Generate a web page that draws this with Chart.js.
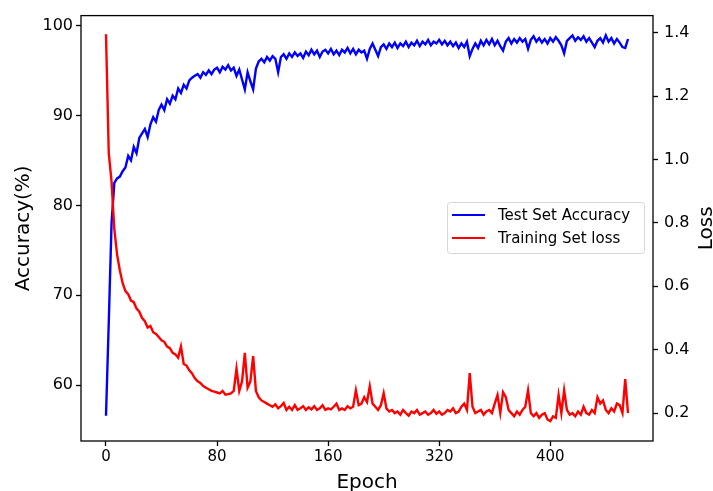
<!DOCTYPE html>
<html><head><meta charset="utf-8">
<script src="https://cdn.jsdelivr.net/npm/chart.js@4.4.1/dist/chart.umd.min.js"></script>
<style>html,body{margin:0;padding:0;background:#fff}#wrap{width:713px;height:491px;position:relative}</style>
</head><body><div id="wrap"><canvas id="c" width="713" height="491"></canvas></div>
<script>
const epochStep = 2;
const testAccuracy = [
  56.6, 67.0, 78.0, 82.5, 83.0, 83.2, 83.8, 84.2, 85.5, 85.0,
  86.5, 85.8, 87.5, 88.0, 88.5, 87.6, 89.0, 89.8, 89.3, 90.6,
  91.2, 90.6, 91.8, 91.3, 92.2, 91.8, 93.0, 92.5, 93.4, 93.0,
  93.9, 94.2, 94.4, 94.6, 94.2, 94.8, 94.5, 95.0, 94.6, 95.1,
  95.3, 94.8, 95.4, 95.1, 95.6, 95.0, 95.3, 94.4, 95.1, 94.0,
  92.9, 94.8, 93.8, 92.9, 95.2, 96.0, 96.3, 95.9, 96.5, 96.1,
  96.6, 96.3, 94.8, 96.5, 96.8, 96.3, 96.9, 96.5, 97.0, 96.6,
  96.9, 96.4, 97.1, 96.7, 97.3, 96.8, 97.2, 96.5, 97.1, 97.3,
  96.9, 97.4, 96.8, 97.2, 96.7, 97.3, 97.0, 97.5, 96.9, 97.4,
  96.8, 97.3, 97.0, 97.2, 96.3, 97.4, 98.0, 97.3, 96.6, 97.6,
  97.9, 97.4, 98.0, 97.6, 98.1, 97.5, 98.0, 97.7, 98.2, 97.6,
  98.1, 97.8, 98.3, 97.7, 98.2, 97.9, 98.4, 97.8, 98.2, 98.0,
  98.4, 97.9, 98.3, 97.8, 98.2, 97.7, 98.1, 97.5, 98.0, 97.6,
  98.2, 96.6, 97.4, 98.0, 97.5, 98.3, 97.8, 98.4, 97.9, 98.5,
  97.8, 98.3, 97.7, 97.2, 98.2, 98.6, 98.0, 98.5, 98.1, 98.6,
  98.2, 98.5, 97.4, 98.4, 98.8, 98.2, 98.6, 98.1, 98.5, 98.0,
  98.6, 98.2, 98.7, 98.3, 97.8, 96.9, 98.3, 98.6, 98.9, 98.3,
  98.7, 98.4, 98.8, 98.2, 98.6, 98.1, 97.6, 98.3, 98.6, 98.1,
  98.9, 98.2, 98.6, 98.0, 98.5, 98.1, 97.6, 97.5, 98.5
];
const trainingLoss = [
  1.395, 1.02, 0.93, 0.78, 0.70, 0.65, 0.61, 0.585, 0.575, 0.555,
  0.55, 0.53, 0.52, 0.50, 0.49, 0.47, 0.475, 0.455, 0.45, 0.44,
  0.43, 0.425, 0.41, 0.405, 0.39, 0.385, 0.375, 0.41, 0.355, 0.35,
  0.335, 0.325, 0.31, 0.30, 0.295, 0.285, 0.28, 0.275, 0.27, 0.268,
  0.265, 0.262, 0.27, 0.258, 0.26, 0.262, 0.27, 0.34, 0.27, 0.30,
  0.39, 0.28, 0.30, 0.38, 0.27, 0.25, 0.24, 0.235, 0.23, 0.225,
  0.22, 0.228, 0.215, 0.222, 0.232, 0.21, 0.22, 0.21, 0.225, 0.21,
  0.215, 0.222, 0.21, 0.218, 0.212, 0.222, 0.21, 0.215, 0.225, 0.21,
  0.215, 0.212, 0.22, 0.23, 0.21, 0.215, 0.21, 0.222, 0.215, 0.22,
  0.272, 0.225, 0.23, 0.25, 0.235, 0.285, 0.23, 0.22, 0.21, 0.225,
  0.263, 0.215, 0.205, 0.21, 0.20, 0.205, 0.195, 0.21, 0.20, 0.192,
  0.205, 0.20, 0.21, 0.195, 0.20, 0.205, 0.195, 0.20, 0.21, 0.198,
  0.205, 0.195, 0.20, 0.21, 0.205, 0.215, 0.20, 0.205, 0.22, 0.23,
  0.21, 0.326, 0.22, 0.20, 0.205, 0.21, 0.195, 0.205, 0.21, 0.20,
  0.23, 0.257, 0.20, 0.266, 0.25, 0.21, 0.20, 0.19, 0.205, 0.195,
  0.21, 0.22, 0.272, 0.20, 0.19, 0.20, 0.185, 0.195, 0.20, 0.18,
  0.175, 0.19, 0.185, 0.257, 0.20, 0.272, 0.21, 0.195, 0.20, 0.19,
  0.205, 0.195, 0.22, 0.20, 0.195, 0.21, 0.20, 0.25, 0.23, 0.24,
  0.21, 0.20, 0.215, 0.205, 0.23, 0.225, 0.20, 0.307, 0.20
];
const xTickValues = [0, 80, 160, 240, 320];
const xTickLabels = ['0', '80', '160', '320', '400'];
const accuracyTicks = [60, 70, 80, 90, 100];
const lossTicks = [0.2, 0.4, 0.6, 0.8, 1.0, 1.2, 1.4];
const seriesLabels = ['Test Set Accuracy', 'Training Set loss'];
const seriesColors = ['#0000ff', '#ff0000'];
const axisTitles = {x: 'Epoch', y: 'Accuracy(%)', y1: 'Loss'};

const FONT = "'DejaVu Sans', sans-serif";
const toPoints = arr => arr.map((v, i) => ({x: i * epochStep, y: v}));

const extrasPlugin = {
  id: 'extras',
  afterDraw(chart) {
    const {ctx, chartArea: a} = chart;
    ctx.save();
    ctx.strokeStyle = '#000';
    ctx.lineWidth = 1.3;
    ctx.strokeRect(a.left, a.top, a.right - a.left, a.bottom - a.top);
    const lx = 447, ly = 202, lw = 197, lh = 51;
    ctx.beginPath();
    ctx.roundRect(lx + 0.5, ly + 0.5, lw, lh, 3);
    ctx.fillStyle = 'rgba(255,255,255,0.85)';
    ctx.fill();
    ctx.strokeStyle = '#d6d6d6';
    ctx.lineWidth = 1;
    ctx.stroke();
    ctx.font = '15px ' + FONT;
    ctx.textBaseline = 'middle';
    ctx.textAlign = 'left';
    const rows = [215, 238];
    chart.data.datasets.forEach((ds, i) => {
      ctx.strokeStyle = ds.borderColor;
      ctx.lineWidth = 2.2;
      ctx.beginPath();
      ctx.moveTo(452, rows[i]);
      ctx.lineTo(485, rows[i]);
      ctx.stroke();
      ctx.fillStyle = '#000';
      ctx.fillText(ds.label, 498, rows[i] + 1);
    });
    ctx.translate(707, (a.top + a.bottom) / 2);
    ctx.rotate(-Math.PI / 2);
    ctx.textAlign = 'center';
    ctx.font = '20px ' + FONT;
    ctx.fillStyle = '#000';
    ctx.fillText(axisTitles.y1, 0, 0);
    ctx.restore();
  }
};

const gridOpts = {display: true, drawOnChartArea: false, drawTicks: true, tickLength: 5, tickColor: '#000', tickWidth: 1.3, color: '#000'};

new Chart(document.getElementById('c'), {
  type: 'line',
  data: {
    datasets: [
      {label: seriesLabels[0], data: toPoints(testAccuracy), yAxisID: 'y', borderColor: seriesColors[0], backgroundColor: seriesColors[0], borderWidth: 2.4, pointRadius: 0, tension: 0, order: 1},
      {label: seriesLabels[1], data: toPoints(trainingLoss), yAxisID: 'y1', borderColor: seriesColors[1], backgroundColor: seriesColors[1], borderWidth: 2.4, pointRadius: 0, tension: 0, order: 0}
    ]
  },
  options: {
    responsive: false,
    animation: false,
    devicePixelRatio: 1,
    layout: {padding: {top: 15, left: 0, right: 0, bottom: 0}},
    plugins: {legend: {display: false}, tooltip: {enabled: false}},
    scales: {
      x: {
        type: 'linear', min: -18, max: 394,
        afterBuildTicks: s => { s.ticks = xTickValues.map(v => ({value: v})); },
        afterFit: s => { s.height = 50; },
        ticks: {font: {family: FONT, size: 15}, color: '#000', padding: 2, maxRotation: 0, callback: (v, i) => xTickLabels[i]},
        grid: gridOpts,
        border: {display: false},
        title: {display: true, text: axisTitles.x, font: {family: FONT, size: 20, lineHeight: 1.0}, color: '#000', padding: {top: 0, bottom: -2}}
      },
      y: {
        type: 'linear', position: 'left', min: 53.8, max: 101.1,
        afterBuildTicks: s => { s.ticks = accuracyTicks.map(v => ({value: v})); },
        afterFit: s => { s.width = 81; },
        ticks: {font: {family: FONT, size: 16}, color: '#000', padding: 3, callback: v => String(v)},
        grid: gridOpts,
        border: {display: false},
        title: {display: true, text: axisTitles.y, font: {family: FONT, size: 20}, color: '#000', padding: {top: 12, bottom: 0}}
      },
      y1: {
        type: 'linear', position: 'right', min: 0.112, max: 1.454,
        afterBuildTicks: s => { s.ticks = lossTicks.map(v => ({value: v})); },
        afterFit: s => { s.width = 60; },
        ticks: {font: {family: FONT, size: 16}, color: '#000', padding: 6, callback: v => Number(v).toFixed(1)},
        grid: gridOpts,
        border: {display: false},
        title: {display: false}
      }
    }
  },
  plugins: [extrasPlugin]
});
</script>
</body></html>
